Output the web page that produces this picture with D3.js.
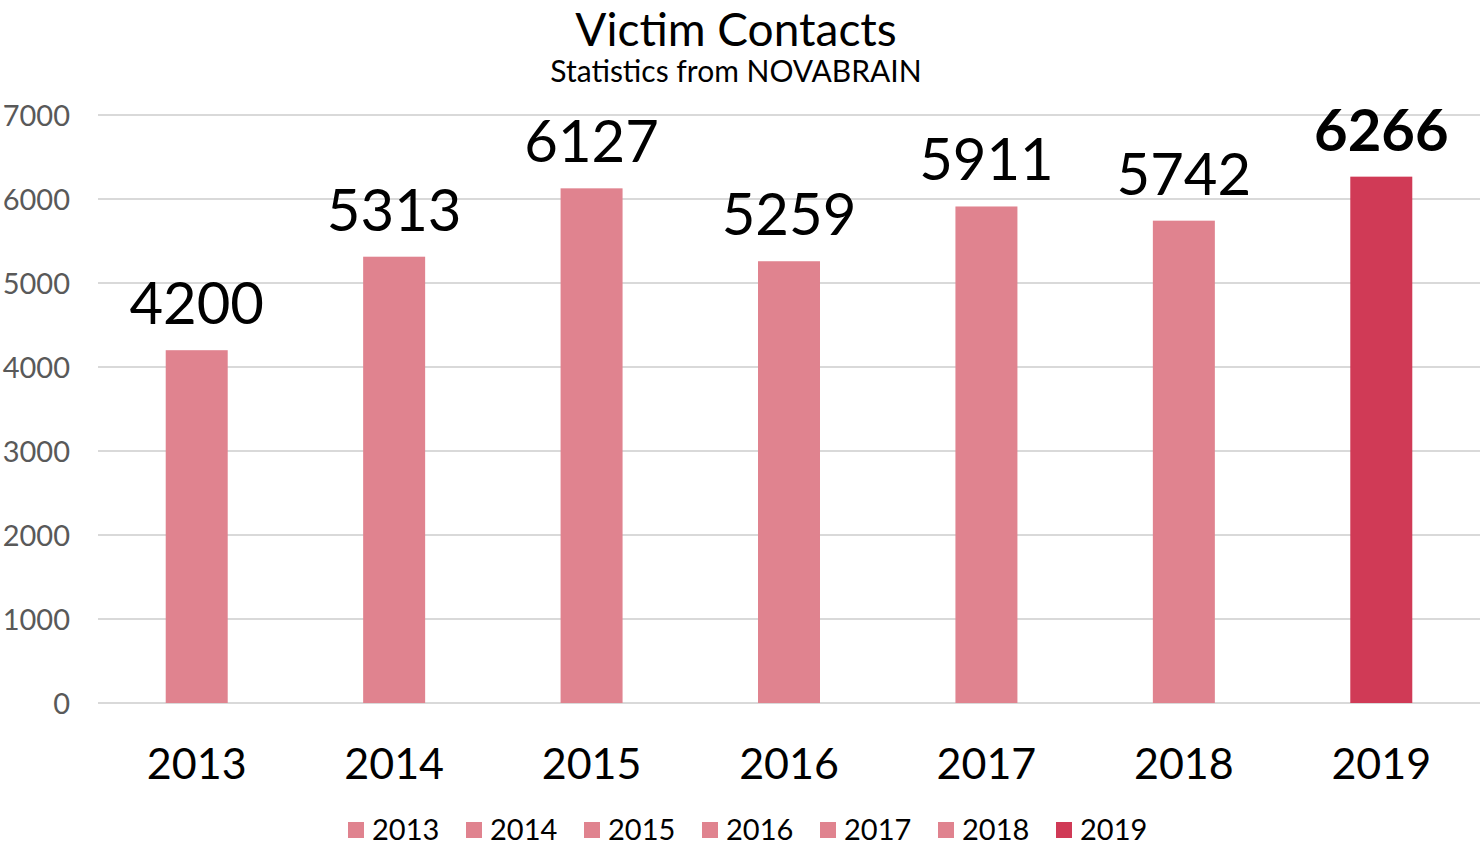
<!DOCTYPE html>
<html><head><meta charset="utf-8">
<script src="https://cdn.jsdelivr.net/npm/d3@7"></script>
<style>html,body{margin:0;padding:0;background:#fff;}svg{display:block;font-family:Lato,"Open Sans",sans-serif;}</style>
</head><body>
<svg id="c" width="1480" height="846"></svg>
<script>
const categories = ["2013","2014","2015","2016","2017","2018","2019"];
const values = [4200,5313,6127,5259,5911,5742,6266];
const highlight = ["2019"];
const yTicks = [0,1000,2000,3000,4000,5000,6000,7000];

(function(){
const svg = d3.select("#c");
const mLeft = 98, mRight = 1480, mTop = 115, mBottom = 703;
const x = d3.scaleBand().domain(categories).range([mLeft, mRight]).paddingInner(0.686).paddingOuter(0.343);
const y = d3.scaleLinear().domain([0,7000]).range([mBottom, mTop]);
const col = d => highlight.includes(d) ? "#D03A56" : "#E0838F";

// gridlines
svg.append("g").selectAll("line").data(yTicks).join("line")
  .attr("x1", mLeft).attr("x2", mRight)
  .attr("y1", d => y(d)).attr("y2", d => y(d))
  .attr("stroke", "#D9D9D9").attr("stroke-width", 2);

// y axis labels
const yAxis = d3.axisLeft(y).tickValues(yTicks).tickFormat(d3.format("d")).tickSize(0).tickPadding(0);
const ya = svg.append("g").attr("transform", `translate(70,0)`).call(yAxis);
ya.select(".domain").remove();
ya.selectAll("text").attr("font-size", 29).attr("fill", "#595959").attr("font-family", "Lato, sans-serif").attr("dy", "0.35em");

// bars
svg.append("g").selectAll("rect").data(categories).join("rect")
  .attr("x", d => x(d)).attr("width", x.bandwidth())
  .attr("y", (d,i) => y(values[i])).attr("height", (d,i) => y(0) - y(values[i]))
  .attr("fill", d => col(d));

// value labels
svg.append("g").selectAll("text").data(categories).join("text")
  .attr("x", d => x(d) + x.bandwidth()/2)
  .attr("y", (d,i) => y(values[i]) - 26)
  .attr("text-anchor", "middle")
  .attr("font-size", 58)
  .attr("font-weight", d => highlight.includes(d) ? "bold" : "normal")
  .attr("fill", "#000")
  .text((d,i) => values[i]);

// x axis labels
const xAxis = d3.axisBottom(x).tickSize(0).tickPadding(0);
const xa = svg.append("g").attr("transform", `translate(0,${mBottom})`).call(xAxis);
xa.select(".domain").remove();
xa.selectAll("text").attr("font-size", 43).attr("fill", "#000").attr("font-family", "Lato, sans-serif")
  .attr("dy", null).attr("y", 76);

// title
svg.append("text").attr("x", 736).attr("y", 46).attr("text-anchor", "middle")
  .attr("font-size", 46).attr("fill", "#000").text("Victim Contacts");
svg.append("text").attr("x", 736).attr("y", 82).attr("text-anchor", "middle")
  .attr("font-size", 30).attr("fill", "#000").text("Statistics from NOVABRAIN");

// legend
const lg = svg.append("g").selectAll("g").data(categories).join("g")
  .attr("transform", (d,i) => `translate(${348 + i*118},0)`);
lg.append("rect").attr("x", 0).attr("y", 822).attr("width", 16).attr("height", 16).attr("fill", d => col(d));
lg.append("text").attr("x", 24).attr("y", 840).attr("font-size", 29).attr("fill", "#000").text(d => d);
})();
</script>
</body></html>
